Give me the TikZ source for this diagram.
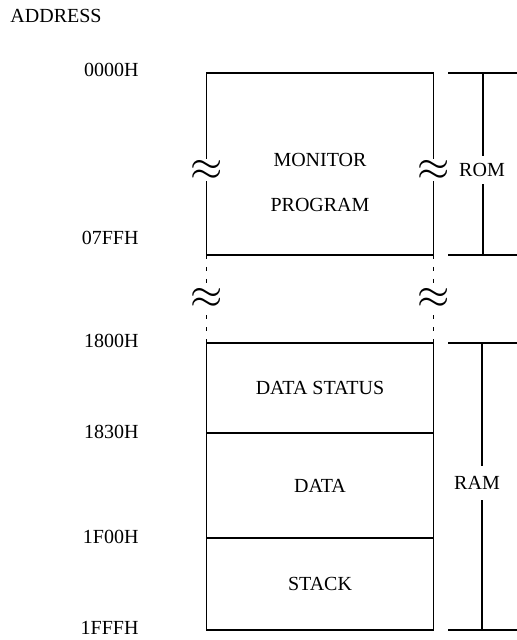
\documentclass[tikz,border=0pt]{standalone}
\usepackage{fontspec}
\setmainfont{Liberation Serif}
\usetikzlibrary{positioning}

\begin{document}
\begin{tikzpicture}[x=0.5pt, y=-0.5pt, thick,
		region/.style={draw, rectangle, minimum width=113.5pt, inner sep=0pt, outer sep=0pt},
		wavy/.style={fill=white, inner sep=0.4pt, font=\huge},
		brk/.style={dash pattern=on 2pt off 4pt}]
		\useasboundingbox (0,0) rectangle (517,640);

		% Address column
		\node[anchor=west] (address) at (3,16) {ADDRESS};
		\foreach \y/\name/\txt in {70/a0/0000H, 238/a1/07FFH, 341/a2/1800H, 432/a3/1830H, 537/a4/1F00H, 628/a5/1FFFH}
			\node[anchor=east] (\name) at (146,\y) {\txt};

		% Monitor program block
		\node[region, minimum height=91pt] (monitor) at (320,164) {};
		\node (montext) at (320,160) {MONITOR};
		\node (progtext) at (320,205) {PROGRAM};

		% RAM blocks
		\node[region, minimum height=45pt] (status) at (320,388) {DATA STATUS};
		\node[region, minimum height=52.5pt, below=0pt of status] (data) {DATA};
		\node[region, minimum height=46pt, below=0pt of data] (stack) {STACK};

		% Broken address range
		\draw[brk] (monitor.south west) -- (status.north west);
		\draw[brk] (monitor.south east) -- (status.north east);
		\node[wavy] (w1) at (207,170) {$\approx$};
		\node[wavy] (w2) at (434,170) {$\approx$};
		\node[wavy] (w3) at (207,298) {$\approx$};
		\node[wavy] (w4) at (434,298) {$\approx$};

		% ROM bracket
		\coordinate (romtop) at (483,73);
		\coordinate (rombot) at (483,255);
		\draw (448,73) -- (517,73);
		\draw (448,255) -- (517,255);
		\node (rom) at (482,170) {ROM};
		\draw (romtop) -- (romtop |- rom.north);
		\draw (rom.south -| rombot) -- (rombot);

		% RAM bracket
		\coordinate (ramtop) at (482,343);
		\coordinate (rambot) at (482,630);
		\draw (448,343) -- (517,343);
		\draw (448,630) -- (517,630);
		\node[inner ysep=5pt] (ram) at (477,483) {RAM};
		\draw (ramtop) -- (ramtop |- ram.north);
		\draw (ram.south -| rambot) -- (rambot);
	\end{tikzpicture}
\end{document}
